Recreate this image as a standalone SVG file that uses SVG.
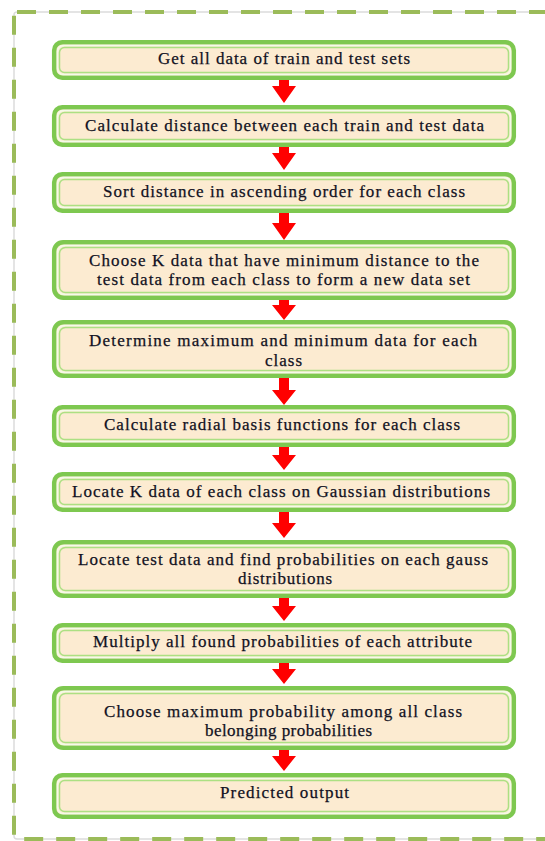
<svg xmlns="http://www.w3.org/2000/svg" width="545" height="841" viewBox="0 0 545 841">
<style>
.frame-base{fill:none;stroke:#dcdcdc;stroke-width:1.5}
.frame{fill:none;stroke:#9bbb59;stroke-width:4;stroke-dasharray:19 13}
.box{fill:#fcebd1;stroke:#7ec850;stroke-width:4.5}
.gap{fill:none;stroke:#f4fbe9;stroke-width:1.5}
.inner{fill:none;stroke:#ace083;stroke-width:1.5}
.t{font-family:'Liberation Serif','Times New Roman',serif;font-size:17px;fill:#111122;stroke:#111122;stroke-width:0.25;text-anchor:middle}
.arrow{fill:#ff0000}
</style>
<rect class="frame-base" x="14" y="12" width="580" height="827" rx="3"/>
<rect class="frame" x="14" y="12" width="580" height="827" rx="3"/>

<g id="connectors">
<path class="arrow" d="M279,80 V86 H272 L284,103 L296,86 H289 V80 Z"/>
<path class="arrow" d="M279,147 V153 H272 L284,170 L296,153 H289 V147 Z"/>
<path class="arrow" d="M279,213 V223 H272 L284,240 L296,223 H289 V213 Z"/>
<path class="arrow" d="M279,300 V305 H272 L284,320 L296,305 H289 V300 Z"/>
<path class="arrow" d="M279,378 V390 H272 L284,405 L296,390 H289 V378 Z"/>
<path class="arrow" d="M279,447 V455 H272 L284,470 L296,455 H289 V447 Z"/>
<path class="arrow" d="M279,512 V523 H272 L284,538 L296,523 H289 V512 Z"/>
<path class="arrow" d="M279,598 V606 H272 L284,621 L296,606 H289 V598 Z"/>
<path class="arrow" d="M279,663 V669 H272 L284,684 L296,669 H289 V663 Z"/>
<path class="arrow" d="M279,750 V756 H272 L284,771 L296,756 H289 V750 Z"/>
</g>

<g id="n1">
<rect class="box" x="54.2" y="42.2" width="459.6" height="35.6" rx="8"/>
<rect class="gap" x="57.5" y="45.5" width="453" height="29" rx="6"/>
<rect class="inner" x="59.5" y="47.5" width="449" height="25" rx="5"/>
<text class="t" x="284" y="64" textLength="252" lengthAdjust="spacing">Get all data of train and test sets</text>
</g>
<g id="n2">
<rect class="box" x="54.2" y="107.2" width="459.6" height="37.6" rx="8"/>
<rect class="gap" x="57.5" y="110.5" width="453" height="31" rx="6"/>
<rect class="inner" x="59.5" y="112.5" width="449" height="27" rx="5"/>
<text class="t" x="284.5" y="131" textLength="399" lengthAdjust="spacing">Calculate distance between each train and test data</text>
</g>
<g id="n3">
<rect class="box" x="54.2" y="174.2" width="459.6" height="36.6" rx="8"/>
<rect class="gap" x="57.5" y="177.5" width="453" height="30" rx="6"/>
<rect class="inner" x="59.5" y="179.5" width="449" height="26" rx="5"/>
<text class="t" x="284" y="197" textLength="362" lengthAdjust="spacing">Sort distance in ascending order for each class</text>
</g>
<g id="n4">
<rect class="box" x="54.2" y="242.2" width="459.6" height="55.6" rx="9"/>
<rect class="gap" x="57.5" y="245.5" width="453" height="49" rx="7"/>
<rect class="inner" x="59.5" y="247.5" width="449" height="45" rx="6"/>
<text class="t" x="284" y="266" textLength="390" lengthAdjust="spacing">Choose K data that have minimum distance to the</text>
<text class="t" x="283.5" y="285" textLength="373" lengthAdjust="spacing">test data from each class to form a new data set</text>
</g>
<g id="n5">
<rect class="box" x="54.2" y="322.2" width="459.6" height="53.6" rx="9"/>
<rect class="gap" x="57.5" y="325.5" width="453" height="47" rx="7"/>
<rect class="inner" x="59.5" y="327.5" width="449" height="43" rx="6"/>
<text class="t" x="283" y="346" textLength="388" lengthAdjust="spacing">Determine maximum and minimum data for each</text>
<text class="t" x="283.5" y="366" textLength="37" lengthAdjust="spacing">class</text>
</g>
<g id="n6">
<rect class="box" x="54.2" y="407.2" width="459.6" height="37.6" rx="8"/>
<rect class="gap" x="57.5" y="410.5" width="453" height="31" rx="6"/>
<rect class="inner" x="59.5" y="412.5" width="449" height="27" rx="5"/>
<text class="t" x="282" y="430" textLength="356" lengthAdjust="spacing">Calculate radial basis functions for each class</text>
</g>
<g id="n7">
<rect class="box" x="54.2" y="474.2" width="459.6" height="35.6" rx="8"/>
<rect class="gap" x="57.5" y="477.5" width="453" height="29" rx="6"/>
<rect class="inner" x="59.5" y="479.5" width="449" height="25" rx="5"/>
<text class="t" x="281" y="497" textLength="418" lengthAdjust="spacing">Locate K data of each class on Gaussian distributions</text>
</g>
<g id="n8">
<rect class="box" x="54.2" y="542.2" width="459.6" height="53.6" rx="9"/>
<rect class="gap" x="57.5" y="545.5" width="453" height="47" rx="7"/>
<rect class="inner" x="59.5" y="547.5" width="449" height="43" rx="6"/>
<text class="t" x="283" y="565" textLength="410" lengthAdjust="spacing">Locate test data and find probabilities on each gauss</text>
<text class="t" x="285" y="584" textLength="94" lengthAdjust="spacing">distributions</text>
</g>
<g id="n9">
<rect class="box" x="54.2" y="625.2" width="459.6" height="35.6" rx="8"/>
<rect class="gap" x="57.5" y="628.5" width="453" height="29" rx="6"/>
<rect class="inner" x="59.5" y="630.5" width="449" height="25" rx="5"/>
<text class="t" x="282.5" y="647" textLength="379" lengthAdjust="spacing">Multiply all found probabilities of each attribute</text>
</g>
<g id="n10">
<rect class="box" x="54.2" y="688.2" width="459.6" height="59.6" rx="9"/>
<rect class="gap" x="57.5" y="691.5" width="453" height="53" rx="7"/>
<rect class="inner" x="59.5" y="693.5" width="449" height="49" rx="6"/>
<text class="t" x="283" y="717" textLength="358" lengthAdjust="spacing">Choose maximum probability among all class</text>
<text class="t" x="288.5" y="736" textLength="167" lengthAdjust="spacing">belonging probabilities</text>
</g>
<g id="n11">
<rect class="box" x="54.2" y="775.2" width="459.6" height="41.6" rx="8"/>
<rect class="gap" x="57.5" y="778.5" width="453" height="35" rx="6"/>
<rect class="inner" x="59.5" y="780.5" width="449" height="31" rx="5"/>
<text class="t" x="284.5" y="798" textLength="129" lengthAdjust="spacing">Predicted output</text>
</g>
</svg>
